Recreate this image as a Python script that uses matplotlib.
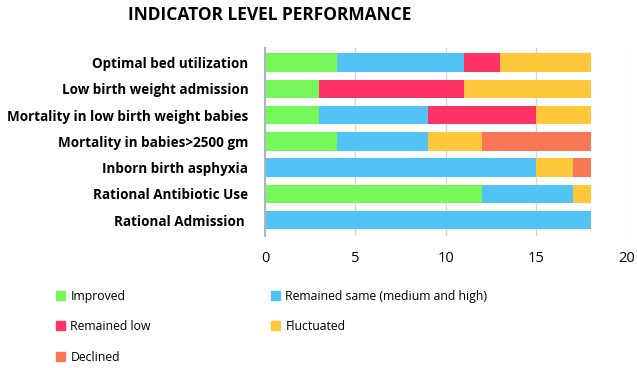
import matplotlib.pyplot as plt
import numpy as np
from matplotlib.patches import Patch

plt.rcParams['font.family'] = ['Open Sans', 'DejaVu Sans']

indicators = ['Optimal bed utilization', 'Low birth weight admission',
              'Mortality in low birth weight babies', 'Mortality in babies>2500 gm',
              'Inborn birth asphyxia', 'Rational Antibiotic Use', 'Rational Admission ']
improved = [4, 3, 3, 4, 0, 12, 0]
same = [7, 0, 6, 5, 15, 5, 18]
low = [2, 8, 6, 0, 0, 0, 0]
fluct = [5, 7, 3, 3, 2, 1, 0]
declined = [0, 0, 0, 6, 1, 0, 0]

names = ['Improved', 'Remained same (medium and high)', 'Remained low', 'Fluctuated', 'Declined']
colors = ['#77f75a', '#52c3f5', '#ff3366', '#ffc83a', '#f97754']
series = [improved, same, low, fluct, declined]

fig = plt.figure(figsize=(6.37, 3.68), dpi=100)
ax = fig.add_axes([0.416, 0.359, 0.568, 0.51])
y = np.arange(len(indicators))[::-1]
left = np.zeros(len(indicators))
for vals, c in zip(series, colors):
    ax.barh(y, vals, left=left, color=c, height=0.7, zorder=2)
    left += np.array(vals)

ax.set_xlim(0, 20)
ax.set_ylim(-0.6, 6.55)
ax.set_xticks([0, 5, 10, 15, 20])
ax.set_yticks(y)
ax.set_yticklabels(indicators, fontweight='bold', fontsize=9.75)
ax.tick_params(axis='both', length=0)
ax.tick_params(axis='x', labelsize=10.5, pad=11)
ax.tick_params(axis='y', pad=12)
ax.grid(axis='x', color='#d0d8dc', lw=1, zorder=0)
for s in ['top', 'right', 'bottom']:
    ax.spines[s].set_visible(False)
ax.spines['left'].set_color('#a8b8c0')
ax.spines['left'].set_linewidth(1.5)

fig.suptitle('INDICATOR LEVEL PERFORMANCE', fontweight='bold', fontsize=12.5, x=0.424, y=0.985)

order = [0, 2, 4, 1, 3]
handles = [Patch(color=colors[i]) for i in order]
labels = [names[i] for i in order]
fig.legend(handles, labels, ncol=2, loc='upper left', bbox_to_anchor=(0.078, 0.229),
           frameon=False, fontsize=8.8, handlelength=0.75, handleheight=0.75,
           handletextpad=0.45, columnspacing=9.8, labelspacing=1.42, borderpad=0)

fig.savefig('out.png', dpi=100)
